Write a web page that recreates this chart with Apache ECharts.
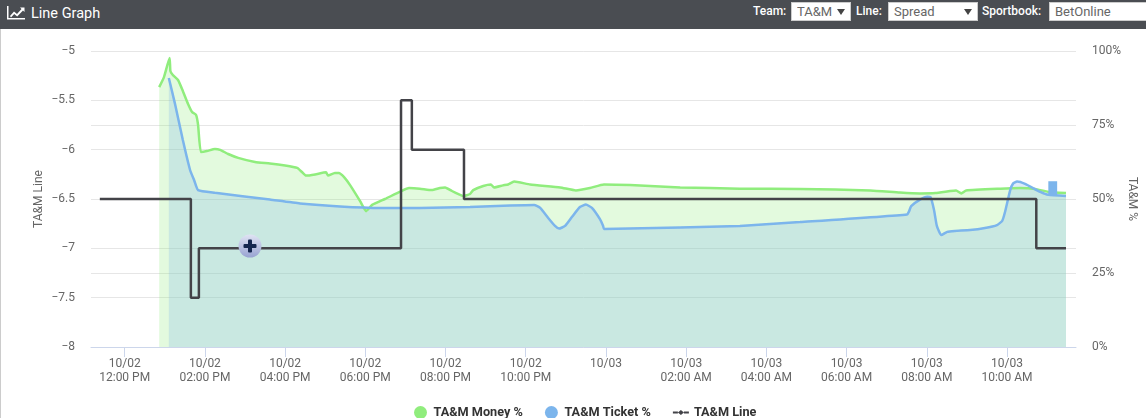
<!DOCTYPE html>
<html>
<head>
<meta charset="utf-8">
<title>Line Graph</title>
<script src="https://cdn.jsdelivr.net/npm/echarts@6/dist/echarts.min.js"></script>
<style>
html, body { margin: 0; padding: 0; background: #fff; overflow: hidden; }
#myChart { position: absolute; left: 0; top: 0; width: 1146px; height: 418px; }
#edge { position: absolute; left: 0; top: 29px; width: 1px; height: 389px; background: #ccc; }
#head {
  position: absolute; left: 0; top: 0; width: 1146px; height: 29px;
  background: #4a4d52; color: #fff; font: 12px Roboto, sans-serif; overflow: hidden;
}
#head svg { position: absolute; left: 7px; top: 6px; }
#head .ttl { position: absolute; left: 31px; top: 5px; font-size: 14.5px; line-height: 18px; }
#head .lbl { position: absolute; top: 3px; line-height: 17px; font-weight: 500; }
#head select, #head input {
  position: absolute; top: 2px; height: 19px; box-sizing: border-box; margin: 0; padding: 0 0 0 5px;
  font: 13px Roboto, sans-serif; color: #666; background-color: #fff;
  border: 1px solid #ccc; border-radius: 0;
}
#head select {
  appearance: none;
  background-image: url("data:image/svg+xml,%3Csvg xmlns='http://www.w3.org/2000/svg' width='8' height='6'%3E%3Cpath d='M0 0h8L4 6z' fill='%23444'/%3E%3C/svg%3E");
  background-repeat: no-repeat;
  background-position: right 5px center;
}
</style>
</head>
<body>
<div id="myChart"></div>
<div id="edge"></div>
<div id="head">
  <svg width="18" height="14" viewBox="0 0 18 14">
    <path d="M0 0h1.5v12H18v1.5H0z" fill="#fff"/>
    <path d="M3 10l4-4.5 3 2.5 4.5-5L13 1.5h4.5V6L16 4.5 10.2 10.5 7.2 8 4 11.5z" fill="#fff"/>
  </svg>
  <span class="ttl">Line Graph</span>
  <span class="lbl" style="left:753px">Team:</span>
  <select style="left:791px;width:60px"><option>TA&amp;M</option></select>
  <span class="lbl" style="left:856px">Line:</span>
  <select style="left:888px;width:90px"><option>Spread</option></select>
  <span class="lbl" style="left:982px">Sportbook:</span>
  <input style="left:1049px;width:100px" value="BetOnline">
</div>
<script>
// x values are hours counted from 10/02 00:00
const tickHours = [12, 14, 16, 18, 20, 22, 24, 26, 28, 30, 32, 34]
const tickLabels = [
  '10/02\n12:00 PM', '10/02\n02:00 PM', '10/02\n04:00 PM', '10/02\n06:00 PM',
  '10/02\n08:00 PM', '10/02\n10:00 PM', '10/03\n', '10/03\n02:00 AM',
  '10/03\n04:00 AM', '10/03\n06:00 AM', '10/03\n08:00 AM', '10/03\n10:00 AM'
]

const moneyPct = [
  [12.86, 87.8], [12.98, 91.2], [13.12, 97.6], [13.14, 93.2], [13.2, 91.9], [13.33, 90.2],
  [13.45, 86.5], [13.58, 82.1], [13.68, 79.4], [13.78, 78.4], [13.83, 75], [13.9, 65.9],
  [14.05, 66.2], [14.25, 66.9], [14.38, 66.6], [14.58, 65.2], [14.83, 63.9], [15.25, 62.5],
  [15.62, 62], [16, 61.3], [16.3, 60.5], [16.42, 59.1], [16.52, 57.9], [16.75, 58.3],
  [17.02, 59], [17.07, 57.9], [17.24, 58.8], [17.34, 58.8], [17.47, 57.4], [17.62, 54.7],
  [17.87, 49.3], [18.02, 45.9], [18.17, 48], [18.49, 50], [18.87, 52.5], [19.09, 53.7],
  [19.36, 53.5], [19.66, 53], [19.86, 53.7], [19.99, 53.9], [20.16, 52.7], [20.31, 51.7],
  [20.44, 51], [20.61, 51.7], [20.69, 53], [20.94, 54.4], [21.13, 54.9], [21.21, 53.9],
  [21.43, 54.6], [21.56, 54.9], [21.71, 55.9], [22.11, 54.9], [22.86, 53.9], [23.25, 52.9],
  [23.6, 53.7], [23.95, 54.9], [24.6, 54.7], [25.85, 53.9], [27.34, 53.5], [28.84, 53.4],
  [30.59, 52.9], [31.33, 52.2], [31.83, 51.9], [32.21, 52], [32.58, 52.7], [32.73, 52.9],
  [32.86, 51.9], [32.98, 52.9], [33.83, 53.5], [34.33, 53.7], [34.7, 53.4], [35.03, 52.4],
  [35.47, 52]
]

const ticketPct = [
  [13.1, 90.9], [13.25, 82.4], [13.45, 69.9], [13.63, 59.8], [13.73, 56.4], [13.83, 53],
  [14.25, 52.1], [15.62, 49.8], [16.37, 48.5], [17.37, 47.5], [18.37, 47], [19.36, 47],
  [20.61, 47.3], [21.61, 47.8], [22.21, 48], [22.36, 47], [22.56, 43.6], [22.73, 40.9],
  [22.83, 40], [22.98, 40.9], [23.15, 43.9], [23.35, 47.3], [23.5, 48.1], [23.65, 47],
  [23.85, 43.2], [23.93, 40.9], [23.95, 39.9], [25.85, 40.4], [27.34, 40.9], [28.84, 42.2],
  [31.51, 44.8], [31.56, 45.9], [31.61, 47.6], [31.83, 49.8], [32.01, 50.8], [32.09, 50.7],
  [32.18, 46.3], [32.25, 40.9], [32.36, 37.8], [32.51, 38.9], [32.7, 39.2], [33.08, 39.5],
  [33.45, 40.2], [33.75, 41.2], [33.88, 42.6], [33.95, 45.6], [34.08, 53], [34.15, 55.2],
  [34.25, 55.9], [34.45, 55.1], [34.83, 52.4], [35.03, 51.4], [35.47, 51]
]

const spreadLine = [
  [11.38, -6.5], [13.65, -7.5], [13.85, -7], [18.89, -5.5], [19.16, -6],
  [20.46, -6.5], [34.73, -7], [35.47, -7]
]

// small solid block the source draws on the ticket series near the end
const ticketBlockX = [35.03, 35.25]
const ticketBlockY = [51, 56]

const textColor = '#666'
const font = 'Roboto, sans-serif'
const gridLine = { show: true, lineStyle: { color: '#e6e6e6', width: 1 }}

const myChart = echarts.init(document.getElementById('myChart'))
myChart.setOption({
  animation: false,
  grid: { left: 91, right: 70, top: 51, bottom: 71, outerBoundsMode: 'none' },
  legend: {
    left: 409,
    top: 401,
    itemWidth: 16,
    itemHeight: 13,
    itemGap: 22,
    selectedMode: false,
    textStyle: { fontFamily: font, fontSize: 12.7, fontWeight: 'bold', color: '#333' },
    data: [
      { name: 'TA&M Money %', icon: 'circle' },
      { name: 'TA&M Ticket %', icon: 'circle' },
      { name: 'TA&M Line', icon: 'path://M0 5h5v2H0zM11 5h5v2h-5zM8 3.5l3 2.5-3 2.5-3-2.5z' }
    ]
  },
  xAxis: {
    type: 'value',
    min: 11.16,
    max: 35.72,
    splitLine: { show: false },
    axisLine: { lineStyle: { color: '#ccd6eb' }},
    axisTick: { length: 10, lineStyle: { color: '#ccd6eb' }, customValues: tickHours },
    axisLabel: {
      customValues: tickHours,
      color: textColor,
      fontFamily: font,
      fontSize: 12,
      lineHeight: 14,
      margin: 10,
      formatter: function(v) {
        return tickLabels[tickHours.indexOf(v)]
      }
    }
  },
  yAxis: [
    {
      type: 'value',
      min: -8,
      max: -5,
      interval: 0.5,
      name: 'TA&M Line',
      nameLocation: 'middle',
      nameRotate: 90,
      nameGap: 46,
      nameMoveOverlap: false,
      nameTextStyle: { color: textColor, fontFamily: font, fontSize: 12 },
      splitLine: gridLine,
      axisLine: { show: false },
      axisTick: { show: false },
      axisLabel: {
        color: textColor,
        fontFamily: font,
        fontSize: 12,
        margin: 16,
        formatter: function(v) {
          return '\u2212' + Math.abs(v)
        }
      }
    },
    {
      type: 'value',
      min: 0,
      max: 100,
      interval: 25,
      position: 'right',
      name: 'TA&M %',
      nameLocation: 'middle',
      nameRotate: -90,
      nameGap: 50,
      nameMoveOverlap: false,
      nameTextStyle: { color: textColor, fontFamily: font, fontSize: 12 },
      splitLine: gridLine,
      axisLine: { show: false },
      axisTick: { show: false },
      axisLabel: {
        color: textColor,
        fontFamily: font,
        fontSize: 12,
        margin: 16,
        formatter: '{value}%'
      }
    }
  ],
  series: [
    {
      name: 'TA&M Money %',
      type: 'line',
      yAxisIndex: 1,
      data: moneyPct,
      smooth: 0.15,
      showSymbol: false,
      itemStyle: { color: '#90ed7d' },
      lineStyle: { color: '#90ed7d', width: 2.5 },
      areaStyle: { color: '#90ed7d', opacity: 0.25, origin: 'start' }
    },
    {
      name: 'TA&M Ticket %',
      type: 'line',
      yAxisIndex: 1,
      data: ticketPct,
      smooth: 0.15,
      showSymbol: false,
      itemStyle: { color: '#7cb5ec' },
      lineStyle: { color: '#7cb5ec', width: 2.5 },
      areaStyle: { color: '#7cb5ec', opacity: 0.25, origin: 'start' },
      markArea: {
        silent: true,
        z: 5,
        itemStyle: { color: '#7cb5ec', opacity: 1 },
        data: [[
          { xAxis: ticketBlockX[0], yAxis: ticketBlockY[0] },
          { xAxis: ticketBlockX[1], yAxis: ticketBlockY[1] }
        ]]
      }
    },
    {
      name: 'TA&M Line',
      type: 'line',
      yAxisIndex: 0,
      data: spreadLine,
      step: 'end',
      showSymbol: false,
      itemStyle: { color: '#434348' },
      lineStyle: { color: '#434348', width: 2.5 }
    }
  ],
  graphic: [
    {
      type: 'group',
      x: 250,
      y: 246,
      children: [
        {
          type: 'circle',
          z: 100,
          shape: { r: 11.5 },
          style: {
            fill: new echarts.graphic.LinearGradient(0, 0, 0, 1, [
              { offset: 0, color: '#dfe3f3' },
              { offset: 1, color: '#98a3d2' }
            ])
          }
        },
        { type: 'rect', z: 101, shape: { x: -6.5, y: -2, width: 13, height: 4, r: 1 }, style: { fill: '#14264f' }},
        { type: 'rect', z: 101, shape: { x: -2, y: -6.5, width: 4, height: 13, r: 1 }, style: { fill: '#14264f' }}
      ]
    }
  ]
})
</script>
</body>
</html>
